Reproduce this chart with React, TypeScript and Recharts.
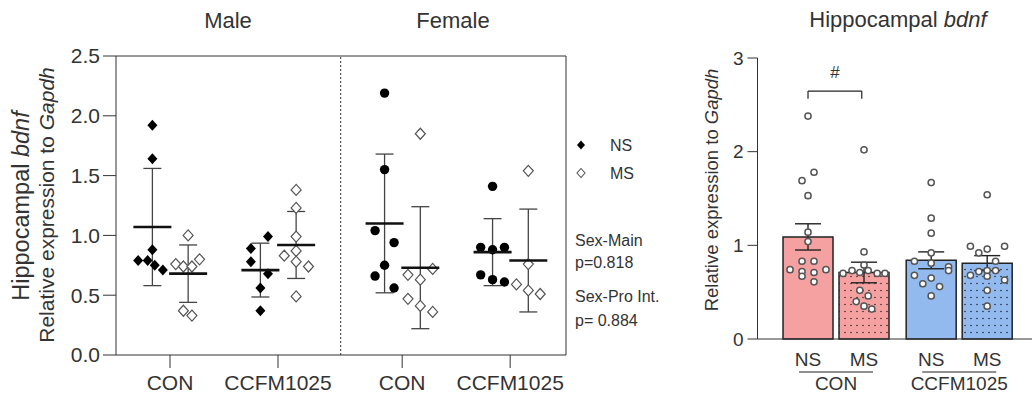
import {
  Bar,
  Cell,
  ComposedChart,
  ErrorBar,
  ReferenceDot,
  ReferenceLine,
  Scatter,
  ScatterChart,
  XAxis,
  YAxis,
} from 'recharts';

const FONT = '"Liberation Sans", Arial, Helvetica, sans-serif';
const INK = '#333333';

// ---------- left panel: individual animals, mean ± SD
const sexTitles = ['Male', 'Female'];
const dietLabels = ['CON', 'CCFM1025', 'CON', 'CCFM1025'];
const dietPos = [1, 2, 3.15, 4.15];
const sexDivider = 2.58;
const leftMax = 4.667;
const leftTicks = [0, 0.5, 1, 1.5, 2, 2.5];

const maleConNs = [1.92, 1.64, 0.88, 0.79, 0.79, 0.75, 0.71];
const maleConNsLane = [0, 0, 0, -1.5, -0.5, 0.25, 1.1];
const maleConMs = [1.0, 0.76, 0.74, 0.74, 0.8, 0.37, 0.33];
const maleConMsLane = [0, -1.3, -0.5, 0.4, 1.2, -0.5, 0.4];
const maleCcfmNs = [0.89, 0.99, 0.78, 0.68, 0.56, 0.37];
const maleCcfmNsLane = [-1, 0.8, -1, 0.8, 0, 0];
const maleCcfmMs = [1.38, 1.23, 0.99, 0.87, 0.83, 0.78, 0.74, 0.49];
const maleCcfmMsLane = [0, 0, 0, 0, -1.25, 0, 1.3, 0];
const femaleConNs = [2.19, 1.55, 1.04, 0.94, 0.75, 0.66, 0.56];
const femaleConNsLane = [0, 0, -1, 1, 0, -1, 1];
const femaleConMs = [1.85, 0.72, 0.67, 0.63, 0.47, 0.41, 0.36];
const femaleConMsLane = [0, 1.3, -1.3, 0, -1.3, 0, 1.3];
const femaleCcfmNs = [1.41, 0.9, 0.88, 0.9, 0.67, 0.63, 0.61];
const femaleCcfmNsLane = [0, -1.25, 0, 1.25, -1.25, 0, 1.25];
const femaleCcfmMs = [1.54, 0.76, 0.59, 0.54, 0.51];
const femaleCcfmMsLane = [0, 0, -1.25, 0, 1.25];

// order: maleCon NS/MS, maleCcfm NS/MS, femaleCon NS/MS, femaleCcfm NS/MS
const groupMeans = [1.07, 0.68, 0.71, 0.92, 1.1, 0.73, 0.86, 0.79];
const groupSd = [0.49, 0.24, 0.225, 0.28, 0.58, 0.51, 0.28, 0.43];

const statLines = ['Sex-Main', 'p=0.818', 'Sex-Pro Int.', 'p= 0.884'];

// ---------- right panel: pooled, mean ± SEM
const stressLabels = ['NS', 'MS', 'NS', 'MS'];
const dietGroups = ['CON', 'CCFM1025'];
const barPos = [1, 2, 3.2, 4.2];
const barMeans = [1.09, 0.71, 0.84, 0.81];
const barSem = [0.14, 0.11, 0.09, 0.08];

const conNs = [2.38, 1.78, 1.69, 1.53, 1.14, 1.04, 0.83, 0.83, 0.74, 0.72, 0.74, 0.71, 0.67, 0.61];
const conNsLane = [0, 1, -1, 0, 0, 0, -1, 1, -3, -1, 3, 1, -1, 1];
const conMs = [2.02, 0.93, 0.79, 0.7, 0.73, 0.71, 0.73, 0.7, 0.7, 0.52, 0.46, 0.4, 0.35, 0.32];
const conMsLane = [0, 0, 0, -3.5, -2, -0.7, 0.7, 2.2, 3.5, -0.7, 0.7, -1.3, 0, 1.3];
const ccfmNs = [1.67, 1.29, 1.13, 0.92, 0.83, 0.81, 0.77, 0.73, 0.68, 0.59, 0.56, 0.65, 0.46];
const ccfmNsLane = [0, 0, 0, 0, -2.8, 0, 2.9, 2.9, -2.8, -1.4, 1.4, 0, 0];
const ccfmMs = [1.54, 0.99, 0.92, 0.96, 0.99, 0.83, 0.72, 0.73, 0.73, 0.68, 0.67, 0.63, 0.52, 0.35];
const ccfmMsLane = [0, -2.8, -1.4, 0, 2.9, 1.4, -1.4, 0, 1.4, -2.8, 0, 2.9, 0, 0];

// "#" comparison CON NS vs CON MS
const bracketTop = 2.647;
const bracketFoot = 2.565;
const hashY = 2.85;

const PINK = '#F6A1A1';
const BLUE = '#92BAEE';

type Marker = 'diamond' | 'circle' | 'open';

const leftGroups: { values: number[]; lanes: number[]; diet: number; ms: boolean; marker: Marker }[] = [
  { values: maleConNs, lanes: maleConNsLane, diet: 0, ms: false, marker: 'diamond' },
  { values: maleConMs, lanes: maleConMsLane, diet: 0, ms: true, marker: 'open' },
  { values: maleCcfmNs, lanes: maleCcfmNsLane, diet: 1, ms: false, marker: 'diamond' },
  { values: maleCcfmMs, lanes: maleCcfmMsLane, diet: 1, ms: true, marker: 'open' },
  { values: femaleConNs, lanes: femaleConNsLane, diet: 2, ms: false, marker: 'circle' },
  { values: femaleConMs, lanes: femaleConMsLane, diet: 2, ms: true, marker: 'open' },
  { values: femaleCcfmNs, lanes: femaleCcfmNsLane, diet: 3, ms: false, marker: 'circle' },
  { values: femaleCcfmMs, lanes: femaleCcfmMsLane, diet: 3, ms: true, marker: 'open' },
];

const NS_SHIFT = -0.163;
const MS_SHIFT = 0.168;
const LEFT_LANE = 0.088;
const RIGHT_LANE = 0.107;
const RIGHT_DOMAIN: [number, number] = [0.098, 5.0];

const groupCenter = (diet: number, ms: boolean) => dietPos[diet] + (ms ? MS_SHIFT : NS_SHIFT);

const meanRows = leftGroups.map((g, i) => ({
  x: groupCenter(g.diet, g.ms),
  y: groupMeans[i],
  sd: groupSd[i],
}));

const rightPoints = [
  { values: conNs, lanes: conNsLane },
  { values: conMs, lanes: conMsLane },
  { values: ccfmNs, lanes: ccfmNsLane },
  { values: ccfmMs, lanes: ccfmMsLane },
];

const barRows = barPos.map((x, i) => ({ x, mean: barMeans[i], sem: barSem[i] }));
const barFills = [PINK, 'url(#pinkDots)', BLUE, 'url(#blueDots)'];
const groupPos = [(barPos[0] + barPos[1]) / 2, (barPos[2] + barPos[3]) / 2];

const bracketL = barPos[0];
const bracketR = barPos[1] - 0.04;
const bracketSegments = [
  [
    { x: bracketL, y: bracketFoot },
    { x: bracketL, y: bracketTop },
  ],
  [
    { x: bracketL, y: bracketTop },
    { x: bracketR, y: bracketTop },
  ],
  [
    { x: bracketR, y: bracketTop },
    { x: bracketR, y: bracketFoot },
  ],
];

function markerShape(kind: Marker) {
  return (p: any) => {
    const { cx, cy } = p;
    if (kind === 'circle') return <circle cx={cx} cy={cy} r={4.7} fill="#000" />;
    const d = `M${cx},${cy - 5.5}L${cx + 5},${cy}L${cx},${cy + 5.5}L${cx - 5},${cy}Z`;
    return kind === 'diamond' ? (
      <path d={d} fill="#000" />
    ) : (
      <path d={d} fill="#fff" stroke="#555" strokeWidth={1.2} />
    );
  };
}

const meanShape = (p: any) => (
  <line x1={p.cx - 19} x2={p.cx + 19} y1={p.cy} y2={p.cy} stroke="#111" strokeWidth={2.6} />
);

const ringShape = (p: any) => (
  <circle cx={p.cx} cy={p.cy} r={3.1} fill="#fff" stroke="#555" strokeWidth={1.5} />
);

function GroupTick({ x, y, index }: any) {
  return (
    <g>
      <line x1={x - 37} x2={x + 37} y1={y + 7} y2={y + 7} stroke="#222" strokeWidth={1.2} />
      <text x={x} y={y + 25} textAnchor="middle" fontSize={19} fill={INK} fontFamily={FONT}>
        {dietGroups[index]}
      </text>
    </g>
  );
}

function LeftPanel() {
  return (
    <ScatterChart
      width={580}
      height={401}
      margin={{ top: 56, right: 14, bottom: 0, left: 0 }}
      style={{ position: 'absolute', left: 0, top: 0 }}
    >
      <XAxis
        type="number"
        dataKey="x"
        domain={[0.5, leftMax]}
        allowDataOverflow
        ticks={dietPos}
        interval={0}
        tickFormatter={(_v: number, i: number) => dietLabels[i]}
        height={46}
        tickSize={13}
        tickMargin={7}
        tick={{ fontSize: 21, fill: INK, fontFamily: FONT }}
        stroke={INK}
      />
      <YAxis
        type="number"
        dataKey="y"
        domain={[0, 2.5]}
        ticks={leftTicks}
        interval={0}
        tickFormatter={(v: number) => v.toFixed(1)}
        width={116}
        tickSize={13}
        tickMargin={3}
        tick={{ fontSize: 21, fill: INK, fontFamily: FONT }}
        stroke={INK}
      />
      <ReferenceLine y={2.5} stroke={INK} strokeWidth={1} />
      <ReferenceLine x={leftMax} stroke={INK} strokeWidth={1} />
      <ReferenceLine x={sexDivider} stroke="#555" strokeDasharray="2 2" strokeWidth={1.2} />
      {leftGroups.map((g, gi) => (
        <Scatter
          key={gi}
          data={g.values.map((v, i) => ({
            x: groupCenter(g.diet, g.ms) + g.lanes[i] * LEFT_LANE,
            y: v,
          }))}
          shape={markerShape(g.marker)}
          isAnimationActive={false}
        />
      ))}
      <Scatter data={meanRows} shape={meanShape} isAnimationActive={false}>
        <ErrorBar dataKey="sd" direction="y" width={9} stroke="#444" strokeWidth={1.3} />
      </Scatter>
    </ScatterChart>
  );
}

function RightPanel() {
  return (
    <ComposedChart
      width={352}
      height={401}
      data={barRows}
      margin={{ top: 58, right: 0, bottom: 0, left: 0 }}
      style={{ position: 'absolute', left: 680, top: 0 }}
    >
      <defs>
        <pattern id="pinkDots" width={6} height={7} patternUnits="userSpaceOnUse">
          <rect width={6} height={7} fill={PINK} />
          <circle cx={3} cy={3.5} r={0.8} fill="#3a2a2a" />
        </pattern>
        <pattern id="blueDots" width={6} height={7} patternUnits="userSpaceOnUse">
          <rect width={6} height={7} fill={BLUE} />
          <circle cx={3} cy={3.5} r={0.8} fill="#1f2a3a" />
        </pattern>
      </defs>
      <XAxis
        xAxisId="b"
        type="number"
        dataKey="x"
        domain={RIGHT_DOMAIN}
        allowDataOverflow
        ticks={groupPos}
        interval={0}
        height={36}
        axisLine={false}
        tickLine={false}
        tickSize={0}
        tickMargin={0}
        tick={<GroupTick />}
      />
      <XAxis
        xAxisId="a"
        type="number"
        dataKey="x"
        domain={RIGHT_DOMAIN}
        allowDataOverflow
        ticks={barPos}
        interval={0}
        tickFormatter={(_v: number, i: number) => stressLabels[i]}
        height={26}
        tickLine={false}
        tickSize={6}
        tickMargin={8}
        tick={{ fontSize: 19, fill: INK, fontFamily: FONT }}
        stroke={INK}
      />
      <YAxis
        type="number"
        domain={[0, 3]}
        ticks={[0, 1, 2, 3]}
        interval={0}
        width={77.5}
        tickSize={10}
        tickMargin={4}
        tick={{ fontSize: 19, fill: INK, fontFamily: FONT }}
        stroke={INK}
      />
      <Bar
        xAxisId="a"
        dataKey="mean"
        barSize={50}
        stroke="#222"
        strokeWidth={1.5}
        isAnimationActive={false}
      >
        {barFills.map((f, i) => (
          <Cell key={i} fill={f} />
        ))}
        <ErrorBar dataKey="sem" direction="y" width={13} stroke="#222" strokeWidth={1.4} />
      </Bar>
      {rightPoints.map((g, gi) => (
        <Scatter
          key={gi}
          xAxisId="b"
          data={g.values.map((v, i) => ({ x: barPos[gi] + g.lanes[i] * RIGHT_LANE, mean: v }))}
          dataKey="mean"
          shape={ringShape}
          isAnimationActive={false}
        />
      ))}
      {bracketSegments.map((seg, i) => (
        <ReferenceLine key={i} xAxisId="a" segment={seg} stroke="#222" strokeWidth={1.2} />
      ))}
      <ReferenceDot
        xAxisId="a"
        x={(bracketL + bracketR) / 2}
        y={hashY}
        r={0}
        fill="none"
        stroke="none"
        label={{ value: '#', position: 'center', fontSize: 17, fill: INK, fontFamily: FONT }}
      />
    </ComposedChart>
  );
}

function Annotations() {
  return (
    <svg
      width={1032}
      height={401}
      style={{ position: 'absolute', left: 0, top: 0, pointerEvents: 'none' }}
      fontFamily={FONT}
      fill={INK}
    >
      <text x={228} y={28} fontSize={22} textAnchor="middle">
        {sexTitles[0]}
      </text>
      <text x={453} y={28} fontSize={22} textAnchor="middle">
        {sexTitles[1]}
      </text>
      <text transform="translate(29,206) rotate(-90)" fontSize={23.5} textAnchor="middle">
        Hippocampal <tspan fontStyle="italic">bdnf</tspan>
      </text>
      <text transform="translate(54,205) rotate(-90)" fontSize={21} textAnchor="middle">
        Relative expression to <tspan fontStyle="italic">Gapdh</tspan>
      </text>

      <path d="M581,140.5L585,145L581,149.5L577,145Z" fill="#000" />
      <text x={610} y={151} fontSize={16}>NS</text>
      <path d="M581,168.5L585,173L581,177.5L577,173Z" fill="#fff" stroke="#555" strokeWidth={1.1} />
      <text x={610} y={179} fontSize={16}>MS</text>

      {statLines.map((s, i) => (
        <text key={s} x={575} y={[246, 268, 302, 326][i]} fontSize={16}>
          {s}
        </text>
      ))}

      <text x={898} y={27} fontSize={22} textAnchor="middle">
        Hippocampal <tspan fontStyle="italic">bdnf</tspan>
      </text>
      <text transform="translate(718,190) rotate(-90)" fontSize={18.5} textAnchor="middle">
        Relative expression to <tspan fontStyle="italic">Gapdh</tspan>
      </text>
    </svg>
  );
}

export default function App() {
  return (
    <div style={{ position: 'relative', width: 1032, height: 401, background: '#fff', fontFamily: FONT }}>
      <style>{'body{margin:0}'}</style>
      <LeftPanel />
      <RightPanel />
      <Annotations />
    </div>
  );
}
